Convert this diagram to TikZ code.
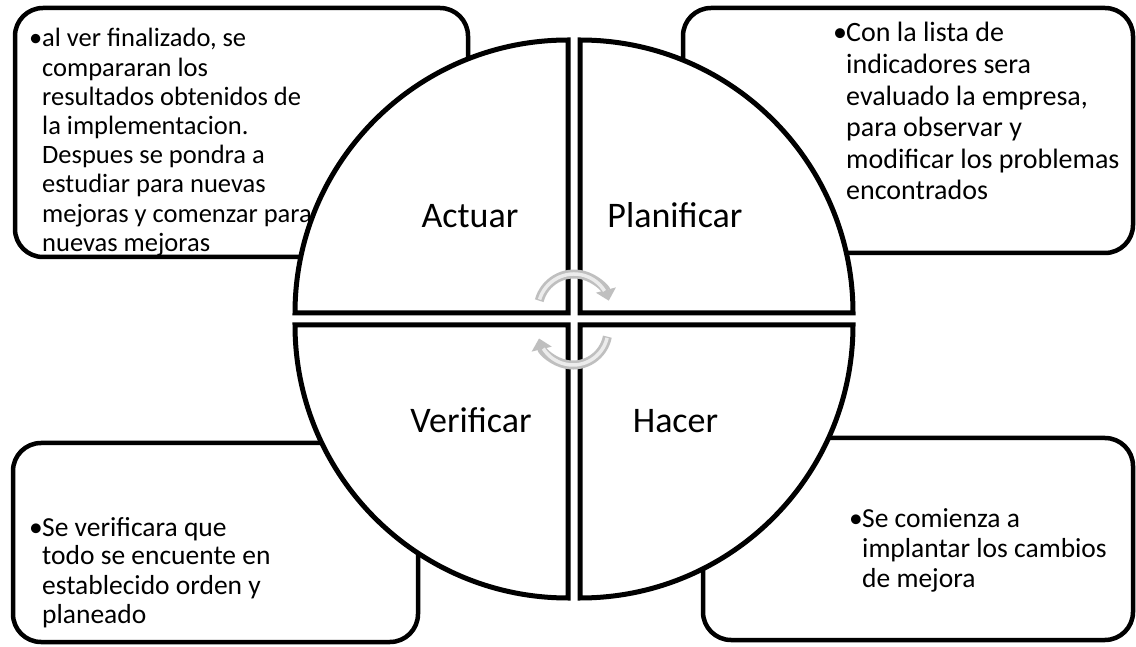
\documentclass[tikz,border=0pt]{standalone}
\usepackage{fontspec}
\setmainfont{Carlito}
\usetikzlibrary{arrows.meta}
\newcommand\bitem[1]{\hbox{\makebox[12pt][l]{\hspace*{-1pt}•}#1}}
\newcommand\bcont[1]{\hbox{\hspace*{12pt}#1}}
\tikzset{
  box/.style={draw=black, line width=4.5pt, rounded corners=28pt},
  quad/.style={draw=black, fill=white, line width=5pt, line join=miter},
  cyc/.style={line width=9pt, draw=gray!50, -{Triangle[length=11pt,width=20pt]}},
  cycin/.style={line width=3.5pt, draw=gray!15},
  lbl/.style={font=\fontsize{36}{40}\selectfont, anchor=base, inner sep=0pt},
  btxt/.style={anchor=base west, inner sep=0pt}
}
\begin{document}
\begin{tikzpicture}[x=1pt,y=1pt]
\useasboundingbox (0,0) rectangle (1136,646);
% boxes
\draw[box] (15,389) rectangle (468,638);
\draw[box] (683,393) rectangle (1133,638);
\draw[box] (13,4) rectangle (418,203);
\draw[box] (703,6) rectangle (1133,208);
% quadrants
\draw[quad] (568,333) -- (568,606) arc[start angle=90,end angle=180,radius=273] -- cycle;
\draw[quad] (580,333) -- (853,333) arc[start angle=0,end angle=90,radius=273] -- cycle;
\draw[quad] (568,321) -- (295,321) arc[start angle=180,end angle=270,radius=273] -- cycle;
\draw[quad] (580,321) -- (580,48) arc[start angle=270,end angle=360,radius=273] -- cycle;
% cycle arrows
\coordinate (ca) at (574,336);
\coordinate (cb) at (573,316);
\draw[cyc] ([shift={(165:36)}]ca) arc[start angle=165,end angle=15,radius=36];
\draw[cycin] ([shift={(163:36)}]ca) arc[start angle=163,end angle=32,radius=36];
\draw[cyc] ([shift={(-11:35)}]cb) arc[start angle=-11,end angle=-166,radius=35];
\draw[cycin] ([shift={(-13:35)}]cb) arc[start angle=-13,end angle=-148,radius=35];
% quadrant labels
\node[lbl] (act) at (470,418) {Actuar};
\node[lbl] (pla) at (675,418) {Planificar};
\node[lbl] (ver) at (471,213) {Verificar};
\node[lbl] (hac) at (675.5,213) {Hacer};
% box texts
\node[btxt] (tltext) at (30,599) {\fontsize{26.5}{29.2}\selectfont\vtop{%
\bitem{al ver finalizado, se}
\bcont{compararan los}
\bcont{resultados obtenidos de}
\bcont{la implementacion.}
\bcont{Despues se pondra a}
\bcont{estudiar para nuevas}
\bcont{mejoras y comenzar para}
\bcont{nuevas mejoras}}};
\node[btxt] (trtext) at (834,604) {\fontsize{28}{31.6}\selectfont\vtop{%
\bitem{Con la lista de}
\bcont{indicadores sera}
\bcont{evaluado la empresa,}
\bcont{para observar y}
\bcont{modificar los problemas}
\bcont{encontrados}}};
\node[btxt] (bltext) at (30,110) {\fontsize{27.5}{29}\selectfont\vtop{%
\bitem{Se verificara que}
\bcont{todo se encuente en}
\bcont{establecido orden y}
\bcont{planeado}}};
\node[btxt] (brtext) at (850,118) {\fontsize{27.5}{30}\selectfont\vtop{%
\bitem{Se comienza a}
\bcont{implantar los cambios}
\bcont{de mejora}}};
\end{tikzpicture}
\end{document}
